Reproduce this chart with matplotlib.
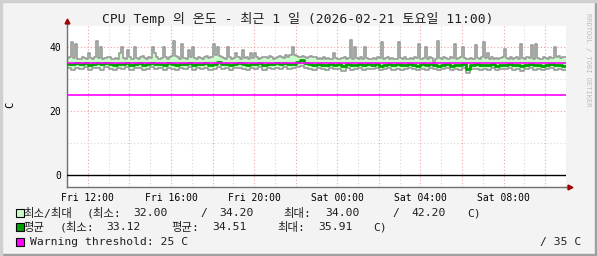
import numpy as np
import matplotlib.pyplot as plt

# max sampled every 6 minutes, min/avg every 12 minutes (hours after Fri 11:00)
max_temp = [36.6, 36.8, 41.5, 36.6, 41.0, 36.4, 36.2, 36.8, 36.6, 36.4,
            38.0, 36.6, 36.4, 36.8, 42.0, 36.6, 40.0, 36.4, 36.6, 37.0,
            36.8, 36.4, 36.2, 36.6, 36.4, 38.0, 40.0, 36.6, 36.4, 39.0,
            36.8, 36.4, 40.0, 36.6, 36.4, 36.9, 37.2, 36.6, 36.4, 36.8,
            36.6, 40.0, 38.0, 36.8, 36.4, 36.6, 40.0, 36.8, 36.4, 37.0,
            37.2, 42.0, 37.2, 36.8, 36.4, 41.0, 36.6, 36.4, 39.0, 36.8,
            40.0, 36.6, 36.4, 36.8, 36.6, 36.4, 37.0, 37.2, 36.6, 36.8,
            41.0, 37.5, 40.0, 37.2, 36.8, 36.6, 36.4, 40.0, 36.8, 36.4,
            36.6, 38.0, 36.8, 36.4, 39.0, 36.6, 36.8, 36.4, 38.0, 36.6,
            38.0, 36.8, 36.4, 36.6, 36.8, 37.0, 36.6, 37.2, 36.8, 36.4,
            36.6, 37.0, 37.2, 36.8, 36.6, 37.5, 37.0, 37.4, 40.0, 37.4,
            37.2, 37.0, 36.8, 37.2, 37.0, 36.6, 36.8, 37.2, 37.0, 36.8,
            36.4, 36.6, 36.2, 36.8, 36.4, 36.6, 36.2, 36.4, 38.0, 36.6,
            36.4, 36.2, 36.6, 36.8, 36.4, 36.6, 42.2, 36.4, 40.0, 36.6,
            36.4, 36.8, 36.4, 40.0, 36.6, 36.4, 36.2, 36.6, 36.4, 36.8,
            36.6, 41.5, 36.4, 36.6, 36.8, 36.4, 36.6, 36.2, 36.4, 41.5,
            36.6, 36.4, 36.8, 36.4, 36.2, 36.6, 36.4, 36.8, 36.6, 41.0,
            36.4, 36.6, 40.0, 36.4, 36.8, 36.6, 34.0, 36.4, 42.0, 36.6,
            36.4, 36.8, 36.6, 36.4, 36.8, 36.6, 41.0, 36.4, 36.6, 36.8,
            40.0, 36.6, 36.4, 36.2, 36.6, 36.4, 40.5, 36.6, 36.4, 36.8,
            41.5, 36.6, 38.0, 36.4, 36.8, 36.2, 36.6, 36.4, 36.6, 36.8,
            39.5, 36.6, 36.4, 36.8, 36.4, 36.6, 36.8, 36.4, 41.0, 36.6,
            36.4, 36.8, 36.6, 40.5, 36.4, 41.0, 36.6, 36.4, 36.2, 36.8,
            36.6, 36.4, 36.8, 36.6, 40.0, 36.8, 37.2, 36.6, 37.0, 36.8]
min_temp = [33.3, 32.9, 33.5, 33.1, 33.6, 32.8, 33.3, 33.5, 32.9, 33.6,
            33.2, 32.7, 33.4, 33.1, 33.6, 32.9, 33.3, 33.5, 32.8, 33.2,
            33.6, 33.0, 33.3, 32.9, 33.5, 33.1, 32.7, 33.4, 33.2, 33.6,
            32.9, 33.3, 33.1, 33.5, 32.8, 33.2, 33.6, 33.0, 33.4, 32.9,
            33.3, 33.5, 33.1, 32.7, 33.4, 33.2, 33.6, 32.9, 33.3, 33.1,
            33.5, 33.2, 33.6, 33.0, 33.3, 33.7, 34.2, 33.5, 33.2, 32.9,
            33.3, 33.1, 32.8, 33.4, 33.0, 33.2, 32.6, 33.3, 32.9, 33.1,
            33.5, 32.8, 33.2, 33.0, 33.4, 32.7, 33.1, 33.3, 32.9, 33.2,
            32.8, 33.1, 33.4, 33.0, 32.7, 33.2, 32.9, 33.3, 33.1, 32.8,
            33.0, 33.4, 32.7, 33.1, 32.9, 33.3, 32.0, 33.0, 33.2, 32.8,
            33.1, 32.9, 33.3, 32.7, 33.2, 33.0, 33.4, 32.8, 33.1, 32.6,
            33.0, 33.3, 32.9, 33.2, 32.7, 33.1, 33.4, 32.9, 33.2, 32.8]
avg_temp = [34.8, 34.6, 35.0, 34.7, 34.9, 34.5, 34.8, 35.1, 34.6, 34.9,
            34.7, 34.4, 34.8, 34.6, 35.0, 34.5, 34.8, 34.9, 34.4, 34.7,
            35.0, 34.6, 34.8, 34.5, 34.9, 34.7, 34.3, 34.8, 34.6, 35.0,
            34.5, 34.7, 34.6, 34.9, 34.4, 34.7, 35.2, 34.6, 34.8, 34.5,
            34.7, 34.9, 34.6, 34.3, 34.8, 34.6, 34.9, 34.5, 34.7, 34.6,
            34.9, 34.7, 35.0, 34.6, 34.8, 35.3, 35.9, 35.0, 34.8, 34.5,
            34.6, 34.5, 34.3, 34.7, 34.4, 34.6, 34.1, 34.6, 34.4, 34.5,
            34.8, 34.3, 34.6, 34.4, 34.7, 34.2, 34.5, 34.6, 34.3, 34.6,
            34.3, 34.5, 34.7, 34.4, 34.2, 34.6, 34.3, 34.6, 34.5, 34.2,
            34.4, 34.7, 34.2, 34.5, 34.3, 34.6, 33.1, 34.4, 34.6, 34.3,
            34.5, 34.3, 34.6, 34.2, 34.5, 34.4, 34.7, 34.3, 34.5, 34.1,
            34.4, 34.6, 34.3, 34.5, 34.2, 34.4, 34.7, 34.3, 34.5, 34.2]
warn_level = 25
crit_level = 35
tick_hours = [1, 5, 9, 13, 17, 21]
tick_labels = ['Fri 12:00', 'Fri 16:00', 'Fri 20:00', 'Sat 00:00', 'Sat 04:00', 'Sat 08:00']
y_ticks = [0, 20, 40]

mono = ['DejaVu Sans Mono', 'Noto Sans CJK KR']
W, H = 597, 256

def fx(x):
    return x / W

def fy(y):
    return 1 - y / H

fig = plt.figure(figsize=(W / 100, H / 100), dpi=100, facecolor='#f3f3f3')
ax = fig.add_axes([fx(67), 1 - 187 / H, 499 / W, 161 / H])
ax.set_facecolor('white')

n = len(max_temp)
x = np.append(np.arange(n) * 24 / n, 24)
mx = np.append(max_temp, max_temp[-1])
mn = np.repeat(min_temp, n // len(min_temp))
mn = np.append(mn, mn[-1])
av = np.repeat(avg_temp, n // len(avg_temp))
av = np.append(av, av[-1])

# grid
for h in range(0, 25):
    col = '#f2a0a0' if h % 2 == 1 else '#d8d8d8'
    ax.axvline(h, color=col, ls=(0, (1, 2)), lw=0.8, zorder=0)
for v in [10, 20, 30, 40]:
    col = '#f2a0a0' if v % 20 == 0 else '#d8d8d8'
    ax.axhline(v, color=col, ls=(0, (1, 2)), lw=0.8, zorder=0)

ax.fill_between(x, mn, mx, step='post', color='#c8ffc8', lw=0, zorder=1)
ax.step(x, mx, where='post', color='#9a9a9a', lw=1.2, zorder=2)
ax.step(x, mn, where='post', color='#9a9a9a', lw=1.2, zorder=2)
ax.step(x, av, where='post', color='#00a000', lw=2.0, zorder=3)
ax.axhline(crit_level, color='#ff00ff', lw=1.2, zorder=4)
ax.axhline(warn_level, color='#ff00ff', lw=1.2, zorder=4)
ax.axhline(0, color='black', lw=1.0, zorder=4)

ax.set_xlim(0, 24)
ax.set_ylim(-3.75, 46.56)
ax.set_xticks(tick_hours)
ax.set_xticklabels(tick_labels)
ax.set_yticks(y_ticks)
ax.tick_params(length=0, labelsize=7, pad=4)
for lab in ax.get_xticklabels() + ax.get_yticklabels():
    lab.set_family(mono)

for s in ['top', 'right']:
    ax.spines[s].set_visible(False)
for s in ['left', 'bottom']:
    ax.spines[s].set_color('#707070')
    ax.spines[s].set_linewidth(1.0)

# axis arrows
ax.plot([0, 0], [1, 1.02], transform=ax.transAxes, color='#707070', lw=1, clip_on=False)
ax.plot([0], [1.03], marker='^', ms=3.5, color='#a00000', transform=ax.transAxes, clip_on=False)
ax.plot([1, 1.006], [0, 0], transform=ax.transAxes, color='#707070', lw=1, clip_on=False)
ax.plot([1.008], [0], marker='>', ms=3.5, color='#a00000', transform=ax.transAxes, clip_on=False)

fig.text(fx(298), fy(19), 'CPU Temp 의 온도 - 최근 1 일 (2026-02-21 토요일 11:00)',
         ha='center', va='center', fontsize=9.4, family=mono, color='#202020')
fig.text(fx(10), fy(105), 'C', rotation=90, ha='center', va='center', fontsize=7.5, family=mono)
fig.text(fx(588), fy(60), 'RRDTOOL / TOBI OETIKER', rotation=270, ha='center', va='center',
         fontsize=5, family=mono, color='#bdbdbd')

# legend
rows = [213, 227, 242]
swatches = ['#c8ffc8', '#00a000', '#ff00ff']
for y, c in zip(rows, swatches):
    fig.patches.append(plt.Rectangle((fx(16), fy(y + 4)), 8 / W, 8 / H, transform=fig.transFigure,
                                     facecolor=c, edgecolor='black', lw=0.8))

def put(x, y, s, ha='left'):
    fig.text(fx(x), fy(y), s, ha=ha, va='center', fontsize=8.2, family=mono, color='#202020')

put(23, rows[0], '최소/최대')
put(87, rows[0], '(최소:')
put(133, rows[0], '32.00')
put(200, rows[0], '/')
put(219, rows[0], '34.20')
put(283, rows[0], '최대:')
put(325, rows[0], '34.00')
put(392, rows[0], '/')
put(411, rows[0], '42.20')
put(467, rows[0], 'C)')

put(23, rows[1], '평균')
put(60, rows[1], '(최소:')
put(106, rows[1], '33.12')
put(171, rows[1], '평균:')
put(212, rows[1], '34.51')
put(277, rows[1], '최대:')
put(318, rows[1], '35.91')
put(373, rows[1], 'C)')

put(30, rows[2], 'Warning threshold: 25 C')
put(581, rows[2], '/ 35 C', ha='right')

# frame edges
fig.patches.append(plt.Rectangle((0, 0), 1, 2 / H, transform=fig.transFigure, color='#a0a0a0'))
fig.patches.append(plt.Rectangle((1 - 2 / W, 0), 2 / W, 1, transform=fig.transFigure, color='#a0a0a0'))
fig.patches.append(plt.Rectangle((0, 0), 1.5 / W, 1, transform=fig.transFigure, color='#d0d0d0'))
fig.patches.append(plt.Rectangle((0, 1 - 1.5 / H), 1, 1.5 / H, transform=fig.transFigure, color='#d0d0d0'))

fig.savefig('out.png', dpi=100, facecolor=fig.get_facecolor())
